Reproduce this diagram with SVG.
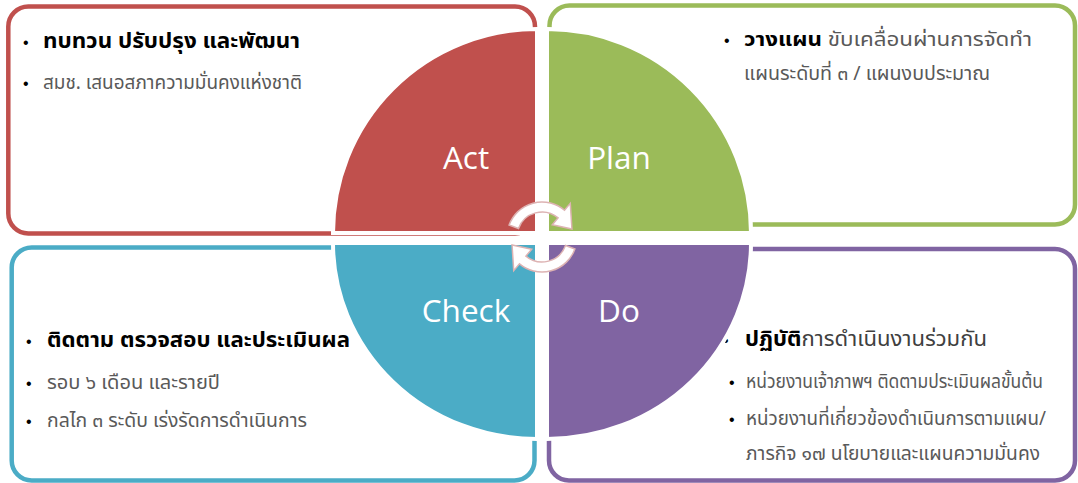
<svg xmlns="http://www.w3.org/2000/svg" width="1078" height="483" viewBox="0 0 1078 483">
<style>
.box{fill:#fff;stroke-width:4.5}
.q{stroke:#fff;stroke-width:4}
.lbl{font-family:"Open Sans","Noto Sans",sans-serif;font-size:31.5px;fill:#fff;text-anchor:middle}
.th{font-family:"Noto Sans Thai","Noto Sans","DejaVu Sans",sans-serif}
.h{font-size:22px;font-weight:bold;fill:#000}
.s{font-size:19px;fill:#595959}
.b{font-family:"Liberation Sans",sans-serif;font-size:16px;fill:#000}
.arr{fill:#fff;stroke:#DDB3B3;stroke-width:1.5}
</style>
<rect width="1078" height="483" fill="#fff"/>
<g id="box-act">
<rect class="box" x="8.3" y="6.5" width="526.7" height="227" rx="20" stroke="#C0504D"/>
<text class="b" x="23" y="48">•</text>
<text class="th h" x="43" y="48" textLength="257" lengthAdjust="spacingAndGlyphs">ทบทวน ปรับปรุง และพัฒนา</text>
<text class="b" x="23" y="89">•</text>
<text class="th s" x="43" y="89" textLength="259" lengthAdjust="spacingAndGlyphs">สมช. เสนอสภาความมั่นคงแห่งชาติ</text>
</g>
<g id="box-plan">
<rect class="box" x="549.5" y="5.5" width="525.5" height="219" rx="20" stroke="#9BBB59"/>
<text class="b" x="724" y="46">•</text>
<text class="th" x="744" y="46" font-size="20" textLength="288" lengthAdjust="spacingAndGlyphs"><tspan font-weight="bold" fill="#000">วางแผน</tspan><tspan fill="#595959"> ขับเคลื่อนผ่านการจัดทำ</tspan></text>
<text class="th s" x="744" y="80" textLength="246" lengthAdjust="spacingAndGlyphs">แผนระดับที่ ๓ / แผนงบประมาณ</text>
</g>
<g id="box-check">
<rect class="box" x="11.7" y="247.5" width="522.8" height="233" rx="20" stroke="#4BACC6"/>
<text class="b" x="26" y="347">•</text>
<text class="th h" x="47" y="347" textLength="303" lengthAdjust="spacingAndGlyphs">ติดตาม ตรวจสอบ และประเมินผล</text>
<text class="b" x="26" y="389">•</text>
<text class="th s" x="47" y="389" textLength="173" lengthAdjust="spacingAndGlyphs">รอบ ๖ เดือน และรายปี</text>
<text class="b" x="26" y="427">•</text>
<text class="th s" x="47" y="427" textLength="260" lengthAdjust="spacingAndGlyphs">กลไก ๓ ระดับ เร่งรัดการดำเนินการ</text>
</g>
<g id="box-do">
<rect class="box" x="549" y="249" width="526" height="231.5" rx="20" stroke="#8064A2"/>
<text class="b" x="723" y="346">•</text>
<text class="th" x="745" y="346" font-size="21" textLength="242" lengthAdjust="spacingAndGlyphs"><tspan font-weight="bold" fill="#000">ปฏิบัติ</tspan><tspan fill="#404040">การดำเนินงานร่วมกัน</tspan></text>
<text class="b" x="729" y="388">•</text>
<text class="th s" x="746" y="388" font-size="18" textLength="297" lengthAdjust="spacingAndGlyphs">หน่วยงานเจ้าภาพฯ ติดตามประเมินผลขั้นต้น</text>
<text class="b" x="729" y="425">•</text>
<text class="th s" x="746" y="425" font-size="18" textLength="300" lengthAdjust="spacingAndGlyphs">หน่วยงานที่เกี่ยวข้องดำเนินการตามแผน/</text>
<text class="th s" x="746" y="460" textLength="294" lengthAdjust="spacingAndGlyphs">ภารกิจ ๑๗ นโยบายและแผนความมั่นคง</text>
</g>
<g id="quad-act">
<path class="q" fill="#C0504D" d="M537,233 L333,233 A204,204 0 0 1 537,29 Z"/>
<text class="lbl" x="466" y="169">Act</text>
</g>
<g id="quad-plan">
<path class="q" fill="#9BBB59" d="M547,233 L547,29 A204,204 0 0 1 751,233 Z"/>
<text class="lbl" x="619" y="169">Plan</text>
</g>
<g id="quad-do">
<path class="q" fill="#8064A2" d="M547,243 L751,243 A204,196 0 0 1 547,439 Z"/>
<text class="lbl" x="619" y="322">Do</text>
</g>
<g id="quad-check">
<path class="q" fill="#4BACC6" d="M537,243 L537,439 A204,196 0 0 1 333,243 Z"/>
<text class="lbl" x="466" y="322">Check</text>
</g>
<g id="connectors">
<path id="cycle-top" class="arr" d="M509.11,225.03 A35,35 0 0 1 564.5,210.19 L570.28,203.3 L571.94,228.98 L552.28,224.74 L558.07,217.85 A25,25 0 0 0 518.51,228.45 Z"/>
<path id="cycle-bottom" class="arr" transform="rotate(180 542 237)" d="M509.11,225.03 A35,35 0 0 1 564.5,210.19 L570.28,203.3 L571.94,228.98 L552.28,224.74 L558.07,217.85 A25,25 0 0 0 518.51,228.45 Z"/>
</g>
</svg>
